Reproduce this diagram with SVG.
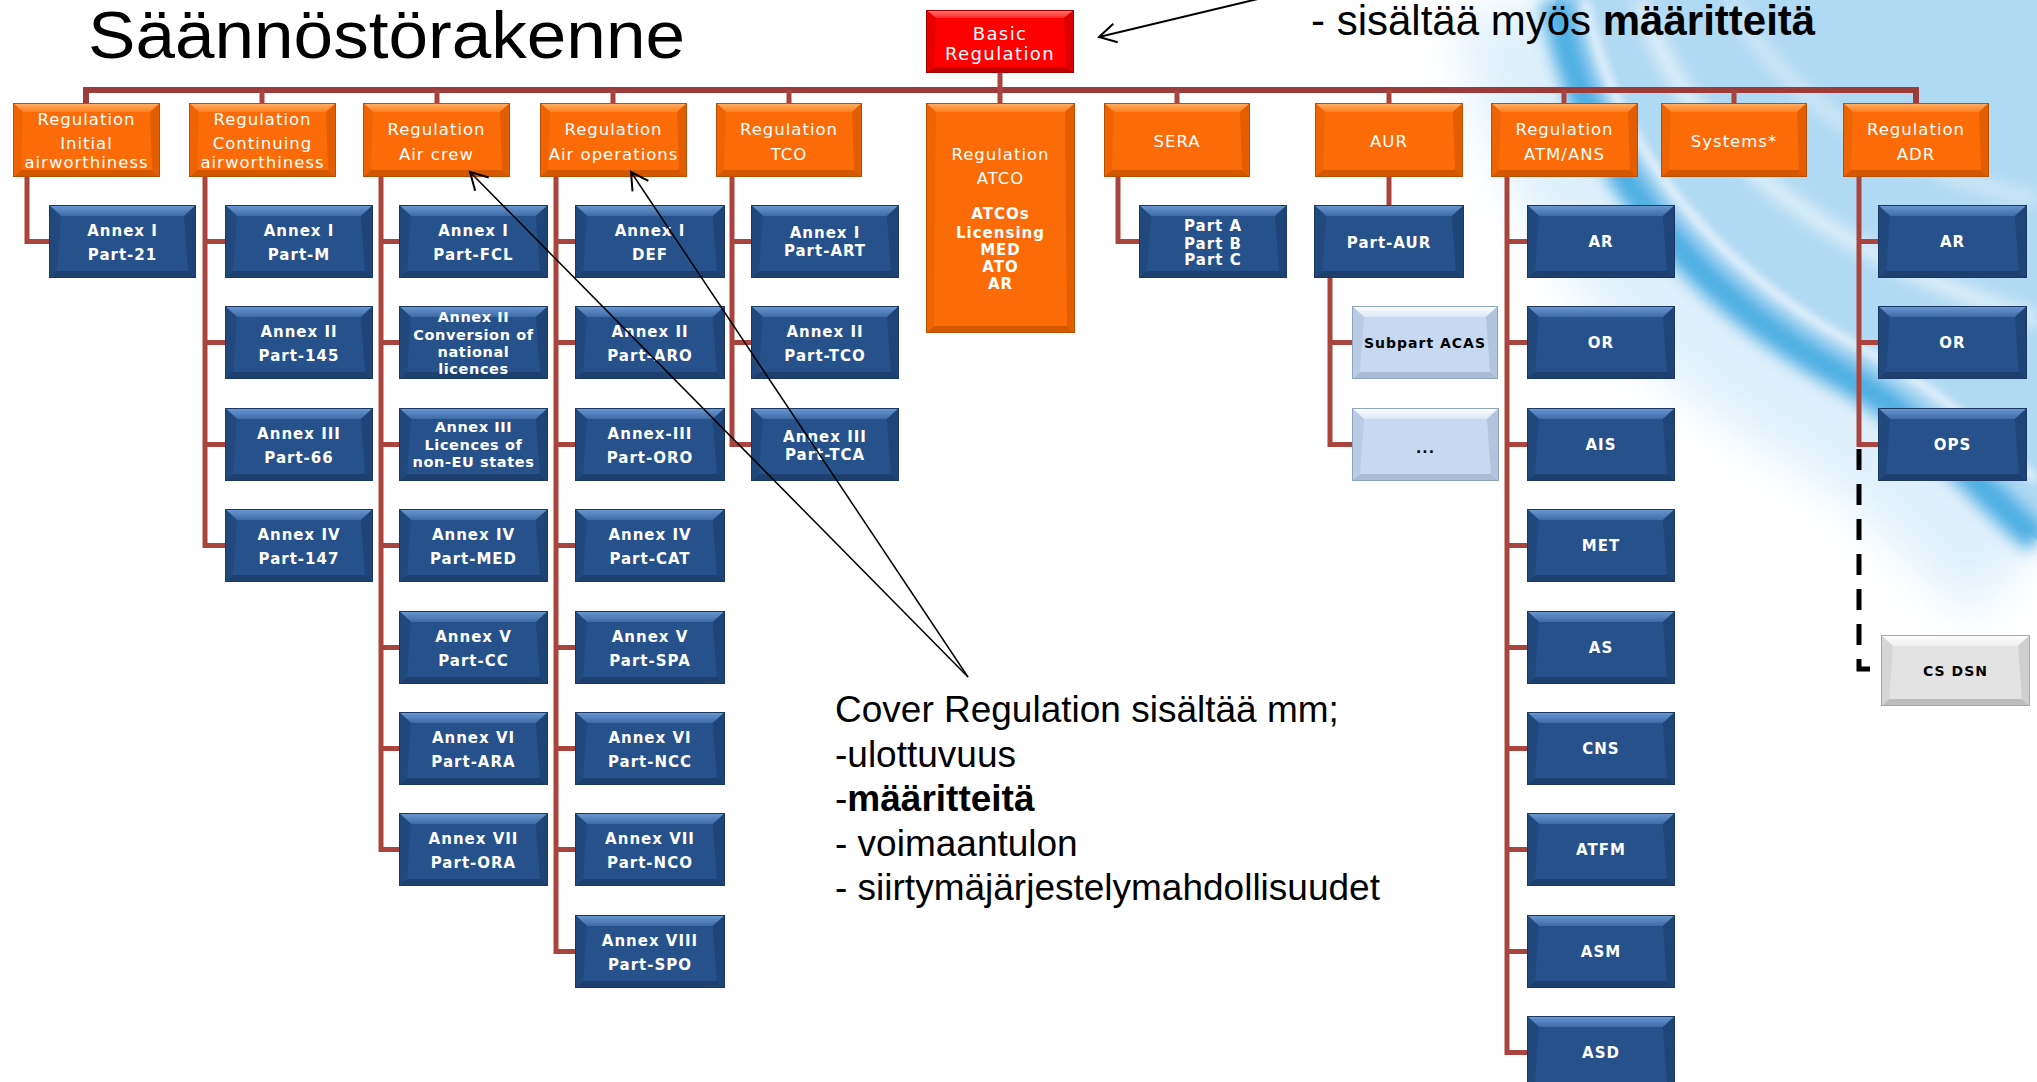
<svg xmlns="http://www.w3.org/2000/svg" xmlns:xlink="http://www.w3.org/1999/xlink" width="2037" height="1082" viewBox="0 0 2037 1082">
<style>
.bt{font-family:"DejaVu Sans",sans-serif;font-weight:bold;font-size:15px;letter-spacing:1px;fill:#fff;text-anchor:middle}
.bt4{font-size:14.5px;letter-spacing:0.6px}
.ot{font-family:"DejaVu Sans",sans-serif;font-size:16.5px;letter-spacing:1px;fill:#fff;text-anchor:middle}
.rt{font-family:"DejaVu Sans",sans-serif;font-size:18px;letter-spacing:1.4px;fill:#fff;text-anchor:middle}
.lt{font-family:"DejaVu Sans",sans-serif;font-weight:bold;font-size:14px;letter-spacing:1px;fill:#000;text-anchor:middle}
.conn{stroke:#A9443F;stroke-width:5;fill:none}
.bus{stroke:#9B3C3A;stroke-width:6;fill:none}
.note{font-family:"Liberation Sans",Arial,sans-serif;fill:#000}
.arrow{stroke:#000;fill:none}
</style>
<defs>
<linearGradient id="gbTop" x1="0" y1="0" x2="0" y2="1"><stop offset="0" stop-color="#6D9AD2"/><stop offset="1" stop-color="#3E6BA6"/></linearGradient>
<linearGradient id="goTop" x1="0" y1="0" x2="0" y2="1"><stop offset="0" stop-color="#FFB26A"/><stop offset="1" stop-color="#FF7F20"/></linearGradient>
<linearGradient id="grTop" x1="0" y1="0" x2="0" y2="1"><stop offset="0" stop-color="#FF7A7A"/><stop offset="1" stop-color="#FF2A2A"/></linearGradient>
<linearGradient id="glTop" x1="0" y1="0" x2="0" y2="1"><stop offset="0" stop-color="#FFFFFF"/><stop offset="1" stop-color="#DCE8F7"/></linearGradient>
<linearGradient id="ggTop" x1="0" y1="0" x2="0" y2="1"><stop offset="0" stop-color="#FFFFFF"/><stop offset="1" stop-color="#EEEEEE"/></linearGradient>
<filter id="blur25" x="-50%" y="-50%" width="200%" height="200%"><feGaussianBlur stdDeviation="25"/></filter>
<filter id="blur8" x="-50%" y="-50%" width="200%" height="200%"><feGaussianBlur stdDeviation="8"/></filter>
<filter id="blur4" x="-50%" y="-50%" width="200%" height="200%"><feGaussianBlur stdDeviation="4"/></filter>
<symbol id="bb" viewBox="0 0 148 73" preserveAspectRatio="none">
<rect width="148" height="73" fill="#26518A"/>
<polygon points="0,0 148,0 136,11 12,11" fill="url(#gbTop)"/>
<polygon points="0,73 148,73 140,66 8,66" fill="#1D406E"/>
<polygon points="0,0 12,11 8,66 0,73" fill="#22497E"/>
<polygon points="148,0 136,11 140,66 148,73" fill="#1E4478"/>
<rect x="0.5" y="0.5" width="147" height="72" fill="none" stroke="#1A3862" stroke-width="1"/>
</symbol>
<symbol id="ob" viewBox="0 0 147 74" preserveAspectRatio="none">
<rect width="147" height="74" fill="#FB6C09"/>
<polygon points="0,0 147,0 137,9 10,9" fill="url(#goTop)"/>
<polygon points="0,74 147,74 139,67 8,67" fill="#D45800"/>
<polygon points="0,0 10,9 8,67 0,74" fill="#EE6404"/>
<polygon points="147,0 137,9 139,67 147,74" fill="#E35E02"/>
<rect x="0.5" y="0.5" width="146" height="73" fill="none" stroke="#B85000" stroke-width="1"/>
</symbol>
<symbol id="lb" viewBox="0 0 146 73" preserveAspectRatio="none">
<rect width="146" height="73" fill="#C6D9F1"/>
<polygon points="0,0 146,0 134,11 12,11" fill="url(#glTop)"/>
<polygon points="0,73 146,73 138,66 8,66" fill="#A9BCD3"/>
<polygon points="0,0 12,11 8,66 0,73" fill="#B8CCE4"/>
<polygon points="146,0 134,11 138,66 146,73" fill="#B0C4DD"/>
<rect x="0.5" y="0.5" width="145" height="72" fill="none" stroke="#8EA3BD" stroke-width="1"/>
</symbol>
<symbol id="gb" viewBox="0 0 149 71" preserveAspectRatio="none">
<rect width="149" height="71" fill="#E3E3E3"/>
<polygon points="0,0 149,0 137,11 12,11" fill="url(#ggTop)"/>
<polygon points="0,71 149,71 141,64 8,64" fill="#BDBDBD"/>
<polygon points="0,0 12,11 8,64 0,71" fill="#D5D5D5"/>
<polygon points="149,0 137,11 141,64 149,71" fill="#CFCFCF"/>
<rect x="0.5" y="0.5" width="148" height="70" fill="none" stroke="#A6A6A6" stroke-width="1"/>
</symbol>
<marker id="openArrow" markerUnits="userSpaceOnUse" viewBox="-20 -12 23 24" refX="0" refY="0" markerWidth="23" markerHeight="24" orient="auto">
<path d="M-17,-9.5 L0,0 L-17,9.5" fill="none" stroke="#000" stroke-width="2"/>
</marker>
</defs>

<rect width="2037" height="1082" fill="#FFFFFF"/>
<g id="background">
<path d="M1555,0 C1590,190 1720,310 1850,380 C1930,425 1990,500 2037,540" stroke="#D6ECFA" stroke-width="200" fill="none" filter="url(#blur25)" opacity="0.8"/>
<path d="M1555,0 C1590,190 1720,310 1850,380 C1930,425 1990,500 2037,540 L2037,0 Z" fill="#B0D9F3"/>
<path d="M1640,0 C1690,150 1820,250 2037,320" stroke="#FFFFFF" stroke-width="14" fill="none" filter="url(#blur8)" opacity="0.7"/>
<path d="M1730,0 C1790,110 1900,170 2037,200" stroke="#FFFFFF" stroke-width="10" fill="none" filter="url(#blur8)" opacity="0.6"/>
<path d="M1555,0 C1590,190 1720,310 1850,380 C1930,425 1990,500 2037,540" stroke="#4DAEE3" stroke-width="30" fill="none" filter="url(#blur8)"/>
<path d="M1585,0 C1620,170 1740,285 1865,350 C1945,392 2000,450 2037,480" stroke="#FFFFFF" stroke-width="8" fill="none" filter="url(#blur4)" opacity="0.75"/>
</g>

<text id="title" class="note" x="88" y="58" font-size="66" textLength="597" lengthAdjust="spacingAndGlyphs">Säännöstörakenne</text>

<g id="connectors">
<path class="bus" d="M86,103 V90 H1916 V103"/>
<path class="conn" d="M262,90 V103 M437,90 V103 M613,90 V103 M789,90 V103 M1177,90 V103 M1389,90 V103 M1564,90 V103 M1734,90 V103 M1000,73 V103"/>
<path class="conn" d="M27,177 V241.5 H49"/>
<path class="conn" d="M205,177 V545.5 H225 M205,241.5 H225 M205,342.5 H225 M205,444.5 H225"/>
<path class="conn" d="M381,177 V849.5 H399 M381,241.5 H399 M381,342.5 H399 M381,444.5 H399 M381,545.5 H399 M381,647.5 H399 M381,748.5 H399"/>
<path class="conn" d="M556,177 V951.5 H575 M556,241.5 H575 M556,342.5 H575 M556,444.5 H575 M556,545.5 H575 M556,647.5 H575 M556,748.5 H575 M556,849.5 H575"/>
<path class="conn" d="M732,177 V444.5 H751 M732,241.5 H751 M732,342.5 H751"/>
<path class="conn" d="M1118,177 V241.5 H1139"/>
<path class="conn" d="M1389,177 V205"/>
<path class="conn" d="M1330,278 V444.5 H1352 M1330,342.5 H1352"/>
<path class="conn" d="M1507,177 V1052.5 H1527 M1507,241.5 H1527 M1507,342.5 H1527 M1507,444.5 H1527 M1507,545.5 H1527 M1507,647.5 H1527 M1507,748.5 H1527 M1507,849.5 H1527 M1507,951.5 H1527"/>
<path class="conn" d="M1859,177 V444.5 H1878 M1859,241.5 H1878 M1859,342.5 H1878"/>
<path d="M1859,449 V669 H1881" stroke="#000" stroke-width="5" fill="none" stroke-dasharray="21 14"/>
</g>

<g id="n-basic">
<rect x="926" y="10" width="148" height="63" fill="#FF0000"/>
<polygon points="926,10 1074,10 1064,18 936,18" fill="url(#grTop)"/>
<polygon points="926,73 1074,73 1066,67 934,67" fill="#C00000"/>
<polygon points="926,10 936,18 934,67 926,73" fill="#E80000"/>
<polygon points="1074,10 1064,18 1066,67 1074,73" fill="#DD0000"/>
<rect x="926.5" y="10.5" width="147" height="62" fill="none" stroke="#A00000"/>
<text class="rt"><tspan x="1000" y="39.5">Basic</tspan><tspan x="1000" y="59.5">Regulation</tspan></text>
</g>

<g id="n-initial" transform="translate(13,103)"><use href="#ob" width="147" height="74"/><text class="ot"><tspan x="73.5" y="21.5">Regulation</tspan><tspan x="73.5" y="46">Initial</tspan><tspan x="73.5" y="65">airworthiness</tspan></text></g>
<g id="n-continuing" transform="translate(189,103)"><use href="#ob" width="147" height="74"/><text class="ot"><tspan x="73.5" y="21.5">Regulation</tspan><tspan x="73.5" y="46">Continuing</tspan><tspan x="73.5" y="65">airworthiness</tspan></text></g>
<g id="n-aircrew" transform="translate(363,103)"><use href="#ob" width="147" height="74"/><text class="ot"><tspan x="73.5" y="32">Regulation</tspan><tspan x="73.5" y="57">Air crew</tspan></text></g>
<g id="n-airops" transform="translate(540,103)"><use href="#ob" width="147" height="74"/><text class="ot"><tspan x="73.5" y="32">Regulation</tspan><tspan x="73.5" y="57">Air operations</tspan></text></g>
<g id="n-tco" transform="translate(716,103)"><use href="#ob" width="146" height="74"/><text class="ot"><tspan x="73" y="32">Regulation</tspan><tspan x="73" y="57">TCO</tspan></text></g>
<g id="n-atco">
<rect x="926" y="103" width="149" height="230" fill="#FB6C09"/>
<polygon points="926,103 1075,103 1065,112 936,112" fill="url(#goTop)"/>
<polygon points="926,333 1075,333 1067,326 934,326" fill="#D45800"/>
<polygon points="926,103 936,112 934,326 926,333" fill="#EE6404"/>
<polygon points="1075,103 1065,112 1067,326 1075,333" fill="#E35E02"/>
<rect x="926.5" y="103.5" width="148" height="229" fill="none" stroke="#B85000"/>
<text class="ot"><tspan x="1000.5" y="160">Regulation</tspan><tspan x="1000.5" y="184">ATCO</tspan></text>
<text class="bt"><tspan x="1000.5" y="218.5">ATCOs</tspan><tspan x="1000.5" y="237.5">Licensing</tspan><tspan x="1000.5" y="254.5">MED</tspan><tspan x="1000.5" y="271.5">ATO</tspan><tspan x="1000.5" y="288.5">AR</tspan></text>
</g>
<g id="n-sera" transform="translate(1104,103)"><use href="#ob" width="146" height="74"/><text class="ot" x="73" y="44">SERA</text></g>
<g id="n-aur" transform="translate(1315,103)"><use href="#ob" width="148" height="74"/><text class="ot" x="74" y="44">AUR</text></g>
<g id="n-atm" transform="translate(1491,103)"><use href="#ob" width="147" height="74"/><text class="ot"><tspan x="73.5" y="32">Regulation</tspan><tspan x="73.5" y="57">ATM/ANS</tspan></text></g>
<g id="n-systems" transform="translate(1661,103)"><use href="#ob" width="146" height="74"/><text class="ot" x="73" y="44">Systems*</text></g>
<g id="n-adr" transform="translate(1843,103)"><use href="#ob" width="146" height="74"/><text class="ot"><tspan x="73" y="32">Regulation</tspan><tspan x="73" y="57">ADR</tspan></text></g>

<g id="n-part21" transform="translate(49,205)"><use href="#bb" width="147" height="73"/><text class="bt"><tspan x="73.5" y="30.5">Annex I</tspan><tspan x="73.5" y="54.5">Part-21</tspan></text></g>

<g id="n-partm" transform="translate(225,205)"><use href="#bb" width="148" height="73"/><text class="bt"><tspan x="74" y="30.5">Annex I</tspan><tspan x="74" y="54.5">Part-M</tspan></text></g>
<g id="n-part145" transform="translate(225,306)"><use href="#bb" width="148" height="73"/><text class="bt"><tspan x="74" y="30.5">Annex II</tspan><tspan x="74" y="54.5">Part-145</tspan></text></g>
<g id="n-part66" transform="translate(225,408)"><use href="#bb" width="148" height="73"/><text class="bt"><tspan x="74" y="30.5">Annex III</tspan><tspan x="74" y="54.5">Part-66</tspan></text></g>
<g id="n-part147" transform="translate(225,509)"><use href="#bb" width="148" height="73"/><text class="bt"><tspan x="74" y="30.5">Annex IV</tspan><tspan x="74" y="54.5">Part-147</tspan></text></g>

<g id="n-fcl" transform="translate(399,205)"><use href="#bb" width="149" height="73"/><text class="bt"><tspan x="74.5" y="30.5">Annex I</tspan><tspan x="74.5" y="54.5">Part-FCL</tspan></text></g>
<g id="n-conversion" transform="translate(399,306)"><use href="#bb" width="149" height="73"/><text class="bt bt4"><tspan x="74.5" y="16">Annex II</tspan><tspan x="74.5" y="34">Conversion of</tspan><tspan x="74.5" y="51">national</tspan><tspan x="74.5" y="68">licences</tspan></text></g>
<g id="n-noneu" transform="translate(399,408)"><use href="#bb" width="149" height="73"/><text class="bt bt4"><tspan x="74.5" y="24">Annex III</tspan><tspan x="74.5" y="42">Licences of</tspan><tspan x="74.5" y="59">non-EU states</tspan></text></g>
<g id="n-med" transform="translate(399,509)"><use href="#bb" width="149" height="73"/><text class="bt"><tspan x="74.5" y="30.5">Annex IV</tspan><tspan x="74.5" y="54.5">Part-MED</tspan></text></g>
<g id="n-cc" transform="translate(399,611)"><use href="#bb" width="149" height="73"/><text class="bt"><tspan x="74.5" y="30.5">Annex V</tspan><tspan x="74.5" y="54.5">Part-CC</tspan></text></g>
<g id="n-ara" transform="translate(399,712)"><use href="#bb" width="149" height="73"/><text class="bt"><tspan x="74.5" y="30.5">Annex VI</tspan><tspan x="74.5" y="54.5">Part-ARA</tspan></text></g>
<g id="n-ora" transform="translate(399,813)"><use href="#bb" width="149" height="73"/><text class="bt"><tspan x="74.5" y="30.5">Annex VII</tspan><tspan x="74.5" y="54.5">Part-ORA</tspan></text></g>

<g id="n-def" transform="translate(575,205)"><use href="#bb" width="150" height="73"/><text class="bt"><tspan x="75" y="30.5">Annex I</tspan><tspan x="75" y="54.5">DEF</tspan></text></g>
<g id="n-aro" transform="translate(575,306)"><use href="#bb" width="150" height="73"/><text class="bt"><tspan x="75" y="30.5">Annex II</tspan><tspan x="75" y="54.5">Part-ARO</tspan></text></g>
<g id="n-oro" transform="translate(575,408)"><use href="#bb" width="150" height="73"/><text class="bt"><tspan x="75" y="30.5">Annex-III</tspan><tspan x="75" y="54.5">Part-ORO</tspan></text></g>
<g id="n-cat" transform="translate(575,509)"><use href="#bb" width="150" height="73"/><text class="bt"><tspan x="75" y="30.5">Annex IV</tspan><tspan x="75" y="54.5">Part-CAT</tspan></text></g>
<g id="n-spa" transform="translate(575,611)"><use href="#bb" width="150" height="73"/><text class="bt"><tspan x="75" y="30.5">Annex V</tspan><tspan x="75" y="54.5">Part-SPA</tspan></text></g>
<g id="n-ncc" transform="translate(575,712)"><use href="#bb" width="150" height="73"/><text class="bt"><tspan x="75" y="30.5">Annex VI</tspan><tspan x="75" y="54.5">Part-NCC</tspan></text></g>
<g id="n-nco" transform="translate(575,813)"><use href="#bb" width="150" height="73"/><text class="bt"><tspan x="75" y="30.5">Annex VII</tspan><tspan x="75" y="54.5">Part-NCO</tspan></text></g>
<g id="n-spo" transform="translate(575,915)"><use href="#bb" width="150" height="73"/><text class="bt"><tspan x="75" y="30.5">Annex VIII</tspan><tspan x="75" y="54.5">Part-SPO</tspan></text></g>

<g id="n-art" transform="translate(751,205)"><use href="#bb" width="148" height="73"/><text class="bt"><tspan x="74" y="32.5">Annex I</tspan><tspan x="74" y="50.5">Part-ART</tspan></text></g>
<g id="n-tco2" transform="translate(751,306)"><use href="#bb" width="148" height="73"/><text class="bt"><tspan x="74" y="30.5">Annex II</tspan><tspan x="74" y="54.5">Part-TCO</tspan></text></g>
<g id="n-tca" transform="translate(751,408)"><use href="#bb" width="148" height="73"/><text class="bt"><tspan x="74" y="33.5">Annex III</tspan><tspan x="74" y="51.5">Part-TCA</tspan></text></g>

<g id="n-partabc" transform="translate(1139,205)"><use href="#bb" width="148" height="73"/><text class="bt"><tspan x="74" y="25.5">Part A</tspan><tspan x="74" y="43.5">Part B</tspan><tspan x="74" y="59.5">Part C</tspan></text></g>
<g id="n-partaur" transform="translate(1314,205)"><use href="#bb" width="150" height="73"/><text class="bt" x="75" y="42.5">Part-AUR</text></g>
<g id="n-acas" transform="translate(1352,306)"><use href="#lb" width="146" height="73"/><text class="lt" x="73" y="41.5">Subpart ACAS</text></g>
<g id="n-dots" transform="translate(1352,408)"><use href="#lb" width="147" height="73"/><text class="lt" x="73.5" y="45">...</text></g>

<g id="n-atm-ar" transform="translate(1527,205)"><use href="#bb" width="148" height="73"/><text class="bt" x="74" y="42">AR</text></g>
<g id="n-atm-or" transform="translate(1527,306)"><use href="#bb" width="148" height="73"/><text class="bt" x="74" y="42">OR</text></g>
<g id="n-atm-ais" transform="translate(1527,408)"><use href="#bb" width="148" height="73"/><text class="bt" x="74" y="42">AIS</text></g>
<g id="n-atm-met" transform="translate(1527,509)"><use href="#bb" width="148" height="73"/><text class="bt" x="74" y="42">MET</text></g>
<g id="n-atm-as" transform="translate(1527,611)"><use href="#bb" width="148" height="73"/><text class="bt" x="74" y="42">AS</text></g>
<g id="n-atm-cns" transform="translate(1527,712)"><use href="#bb" width="148" height="73"/><text class="bt" x="74" y="42">CNS</text></g>
<g id="n-atm-atfm" transform="translate(1527,813)"><use href="#bb" width="148" height="73"/><text class="bt" x="74" y="42">ATFM</text></g>
<g id="n-atm-asm" transform="translate(1527,915)"><use href="#bb" width="148" height="73"/><text class="bt" x="74" y="42">ASM</text></g>
<g id="n-atm-asd" transform="translate(1527,1016)"><use href="#bb" width="148" height="73"/><text class="bt" x="74" y="42">ASD</text></g>

<g id="n-adr-ar" transform="translate(1878,205)"><use href="#bb" width="149" height="73"/><text class="bt" x="74.5" y="42">AR</text></g>
<g id="n-adr-or" transform="translate(1878,306)"><use href="#bb" width="149" height="73"/><text class="bt" x="74.5" y="42">OR</text></g>
<g id="n-adr-ops" transform="translate(1878,408)"><use href="#bb" width="149" height="73"/><text class="bt" x="74.5" y="42">OPS</text></g>
<g id="n-csdsn" transform="translate(1881,635)"><use href="#gb" width="149" height="71"/><text class="lt" x="74.5" y="40.5">CS DSN</text></g>

<g id="notes">
<text class="note" x="1311" y="35" font-size="42">- sisältää myös <tspan font-weight="bold">määritteitä</tspan></text>
<text class="note" font-size="37"><tspan x="835" y="722">Cover Regulation sisältää mm;</tspan><tspan x="835" y="767">-ulottuvuus</tspan><tspan x="835" y="811">-<tspan font-weight="bold">määritteitä</tspan></tspan><tspan x="835" y="856">- voimaantulon</tspan><tspan x="835" y="900">- siirtymäjärjestelymahdollisuudet</tspan></text>
</g>

<g id="annotation-arrows">
<path class="arrow" d="M1262,-2 L1099,37" stroke-width="2" marker-end="url(#openArrow)"/>
<path class="arrow" d="M968,677 L470,172" stroke-width="1.5" marker-end="url(#openArrow)"/>
<path class="arrow" d="M968,677 L631,172" stroke-width="1.5" marker-end="url(#openArrow)"/>
</g>
</svg>
